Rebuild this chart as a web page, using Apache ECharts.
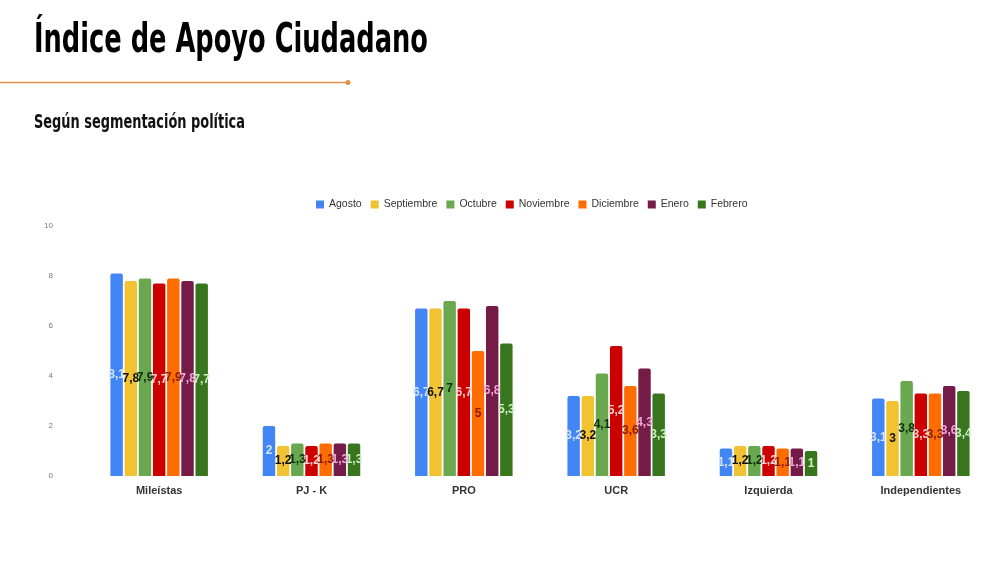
<!DOCTYPE html>
<html>
<head>
<meta charset="utf-8">
<script src="https://cdn.jsdelivr.net/npm/echarts@6/dist/echarts.min.js"></script>
<style>html,body{margin:0;padding:0;background:#fff}#chart{width:1000px;height:562px}</style>
</head>
<body>
<div id="chart"></div>
<script>
var categories = ['Mileístas', 'PJ - K', 'PRO', 'UCR', 'Izquierda', 'Independientes'];
var months = ['Agosto', 'Septiembre', 'Octubre', 'Noviembre', 'Diciembre', 'Enero', 'Febrero'];
var agosto     = [8.1, 2,   6.7, 3.2, 1.1, 3.1];
var septiembre = [7.8, 1.2, 6.7, 3.2, 1.2, 3];
var octubre    = [7.9, 1.3, 7,   4.1, 1.2, 3.8];
var noviembre  = [7.7, 1.2, 6.7, 5.2, 1.2, 3.3];
var diciembre  = [7.9, 1.3, 5,   3.6, 1.1, 3.3];
var enero      = [7.8, 1.3, 6.8, 4.3, 1.1, 3.6];
var febrero    = [7.7, 1.3, 5.3, 3.3, 1,   3.4];
var values = [agosto, septiembre, octubre, noviembre, diciembre, enero, febrero];

var barColors = ['#4285f4', '#f1c232', '#6aa84f', '#cc0000', '#ff6d01', '#741b47', '#38761d'];
var labelColors = ['#d6e4fb', '#111111', '#0d2e0a', '#f6d0d0', '#8a1c05', '#f0a8d8', '#cdeec4'];

var titleText = 'Índice de Apoyo Ciudadano';
var subText = 'Según segmentación política';
var titleFont = 'bold 40px "Liberation Sans Narrow", "DejaVu Sans Condensed", sans-serif';
var subFont = 'bold 19px "Liberation Sans Narrow", "DejaVu Sans Condensed", sans-serif';

function fitScale(text, font, width) {
  var ctx = document.createElement('canvas').getContext('2d');
  ctx.font = font;
  return width / ctx.measureText(text).width;
}

var chart = echarts.init(document.getElementById('chart'));

var series = months.map(function (m, i) {
  return {
    name: m,
    type: 'bar',
    data: values[i],
    barGap: '14%',
    barCategoryGap: '36%',
    itemStyle: { color: barColors[i], borderRadius: [2, 2, 0, 0] },
    label: {
      show: true,
      position: 'inside',
      color: labelColors[i],
      fontSize: 12,
      fontWeight: 'bold',
      fontFamily: 'Liberation Sans, Arial, sans-serif',
      formatter: function (p) { return String(p.value).replace('.', ','); }
    }
  };
});

chart.setOption({
  backgroundColor: '#ffffff',
  animation: false,
  color: barColors,
  legend: {
    data: months,
    left: 311,
    top: 194,
    itemWidth: 8,
    itemHeight: 8,
    itemGap: 9,
    icon: 'rect',
    textStyle: { fontSize: 10.5, color: '#333', fontFamily: 'Liberation Sans, Arial, sans-serif' }
  },
  grid: { left: 83, right: 3, top: 226, bottom: 86, containLabel: false },
  xAxis: {
    type: 'category',
    data: categories,
    axisLine: { show: false },
    axisTick: { show: false },
    axisLabel: { color: '#333', fontSize: 11, fontWeight: 'bold', margin: 9, fontFamily: 'Liberation Sans, Arial, sans-serif' }
  },
  yAxis: {
    type: 'value',
    min: 0,
    max: 10,
    interval: 2,
    splitLine: { show: false },
    axisLine: { show: false },
    axisTick: { show: false },
    axisLabel: { color: '#777', fontSize: 8, margin: 30, fontFamily: 'Liberation Sans, Arial, sans-serif' }
  },
  graphic: [
    {
      type: 'text', x: 34, y: 22, scaleX: fitScale(titleText, titleFont, 394),
      style: { text: titleText, font: titleFont, fill: '#000', verticalAlign: 'top' }
    },
    {
      type: 'line', shape: { x1: 0, y1: 82.5, x2: 348, y2: 82.5 },
      style: { stroke: '#e0904a', lineWidth: 1.5 }
    },
    {
      type: 'circle', shape: { cx: 348, cy: 82.5, r: 2.5 },
      style: { fill: '#e0904a' }
    },
    {
      type: 'text', x: 34, y: 114, scaleX: fitScale(subText, subFont, 211),
      style: { text: subText, font: subFont, fill: '#111', verticalAlign: 'top' }
    }
  ],
  series: series
});
</script>
</body>
</html>
